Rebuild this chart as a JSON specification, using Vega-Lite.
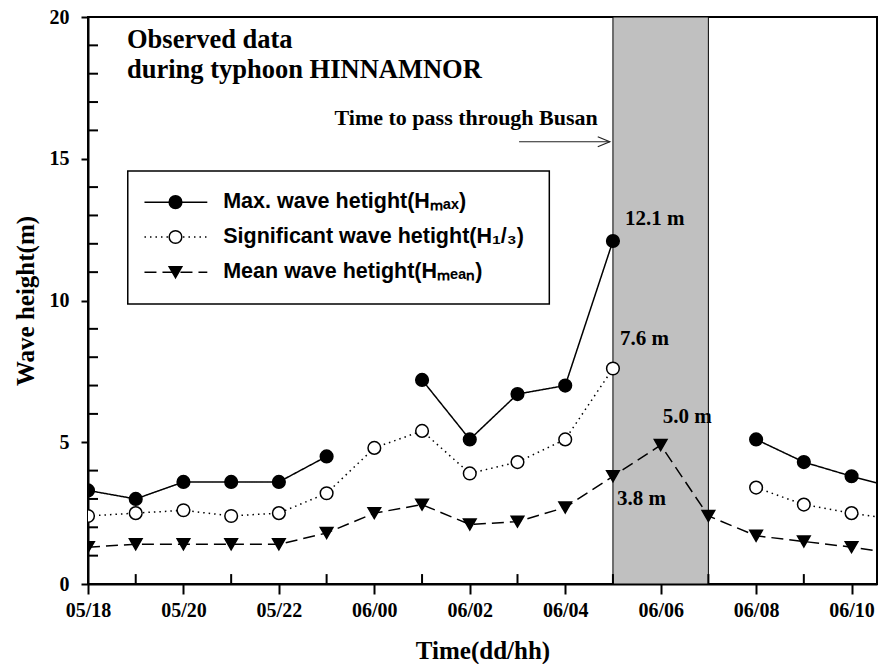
{
  "$schema": "https://vega.github.io/schema/vega-lite/v6.json",
  "width": 789,
  "height": 567,
  "autosize": {"type": "none"},
  "padding": {"left": 88, "top": 17, "right": 2, "bottom": 80},
  "background": "white",
  "config": {
    "view": {"stroke": "black", "strokeWidth": 2},
    "axis": {"zindex": 1, "grid": false, "labelOverlap": false, "domainColor": "black", "domainWidth": 2, "tickColor": "black", "tickWidth": 2, "labelColor": "black", "titleColor": "black", "labelFont": "Liberation Serif", "labelFontWeight": "bold", "labelFontSize": 20, "titleFont": "Liberation Serif", "titleFontWeight": "bold", "titleFontSize": 25}
  },
  "datasets": {
    "waves": [
      {"time": "2022-09-05T18:00", "series": "max", "value": 3.3},
      {"time": "2022-09-05T19:00", "series": "max", "value": 3.0},
      {"time": "2022-09-05T20:00", "series": "max", "value": 3.6},
      {"time": "2022-09-05T21:00", "series": "max", "value": 3.6},
      {"time": "2022-09-05T22:00", "series": "max", "value": 3.6},
      {"time": "2022-09-05T23:00", "series": "max", "value": 4.5},
      {"time": "2022-09-06T00:00", "series": "max", "value": null},
      {"time": "2022-09-06T01:00", "series": "max", "value": 7.2},
      {"time": "2022-09-06T02:00", "series": "max", "value": 5.1},
      {"time": "2022-09-06T03:00", "series": "max", "value": 6.7},
      {"time": "2022-09-06T04:00", "series": "max", "value": 7.0},
      {"time": "2022-09-06T05:00", "series": "max", "value": 12.1},
      {"time": "2022-09-06T06:00", "series": "max", "value": null},
      {"time": "2022-09-06T07:00", "series": "max", "value": null},
      {"time": "2022-09-06T08:00", "series": "max", "value": 5.1},
      {"time": "2022-09-06T09:00", "series": "max", "value": 4.3},
      {"time": "2022-09-06T10:00", "series": "max", "value": 3.8},
      {"time": "2022-09-06T11:00", "series": "max", "value": 3.35},
      {"time": "2022-09-05T18:00", "series": "sig", "value": 2.4},
      {"time": "2022-09-05T19:00", "series": "sig", "value": 2.5},
      {"time": "2022-09-05T20:00", "series": "sig", "value": 2.6},
      {"time": "2022-09-05T21:00", "series": "sig", "value": 2.4},
      {"time": "2022-09-05T22:00", "series": "sig", "value": 2.5},
      {"time": "2022-09-05T23:00", "series": "sig", "value": 3.2},
      {"time": "2022-09-06T00:00", "series": "sig", "value": 4.8},
      {"time": "2022-09-06T01:00", "series": "sig", "value": 5.4},
      {"time": "2022-09-06T02:00", "series": "sig", "value": 3.9},
      {"time": "2022-09-06T03:00", "series": "sig", "value": 4.3},
      {"time": "2022-09-06T04:00", "series": "sig", "value": 5.1},
      {"time": "2022-09-06T05:00", "series": "sig", "value": 7.6},
      {"time": "2022-09-06T06:00", "series": "sig", "value": null},
      {"time": "2022-09-06T07:00", "series": "sig", "value": null},
      {"time": "2022-09-06T08:00", "series": "sig", "value": 3.4},
      {"time": "2022-09-06T09:00", "series": "sig", "value": 2.8},
      {"time": "2022-09-06T10:00", "series": "sig", "value": 2.5},
      {"time": "2022-09-06T11:00", "series": "sig", "value": 2.25},
      {"time": "2022-09-05T18:00", "series": "mean", "value": 1.3},
      {"time": "2022-09-05T19:00", "series": "mean", "value": 1.4},
      {"time": "2022-09-05T20:00", "series": "mean", "value": 1.4},
      {"time": "2022-09-05T21:00", "series": "mean", "value": 1.4},
      {"time": "2022-09-05T22:00", "series": "mean", "value": 1.4},
      {"time": "2022-09-05T23:00", "series": "mean", "value": 1.8},
      {"time": "2022-09-06T00:00", "series": "mean", "value": 2.5},
      {"time": "2022-09-06T01:00", "series": "mean", "value": 2.8},
      {"time": "2022-09-06T02:00", "series": "mean", "value": 2.1},
      {"time": "2022-09-06T03:00", "series": "mean", "value": 2.2},
      {"time": "2022-09-06T04:00", "series": "mean", "value": 2.7},
      {"time": "2022-09-06T05:00", "series": "mean", "value": 3.8},
      {"time": "2022-09-06T06:00", "series": "mean", "value": 4.9},
      {"time": "2022-09-06T07:00", "series": "mean", "value": 2.4},
      {"time": "2022-09-06T08:00", "series": "mean", "value": 1.7},
      {"time": "2022-09-06T09:00", "series": "mean", "value": 1.5},
      {"time": "2022-09-06T10:00", "series": "mean", "value": 1.3},
      {"time": "2022-09-06T11:00", "series": "mean", "value": 1.05}
    ],
    "passage": [{"start": "2022-09-06T05:00", "end": "2022-09-06T07:00"}],
    "minorX": [
      {"time": "2022-09-05T19:00"}, {"time": "2022-09-05T21:00"}, {"time": "2022-09-05T23:00"}, {"time": "2022-09-06T01:00"},
      {"time": "2022-09-06T03:00"}, {"time": "2022-09-06T05:00"}, {"time": "2022-09-06T07:00"}, {"time": "2022-09-06T09:00"}
    ],
    "minorY": [
      {"level": 1}, {"level": 2}, {"level": 3}, {"level": 4}, {"level": 6}, {"level": 7}, {"level": 8}, {"level": 9},
      {"level": 11}, {"level": 12}, {"level": 13}, {"level": 14}, {"level": 16}, {"level": 17}, {"level": 18}, {"level": 19}
    ],
    "one": [{}]
  },
  "layer": [
    {
      "data": {"name": "passage"},
      "mark": {"type": "rect", "fill": "#c0c0c0", "stroke": "black", "strokeWidth": 1},
      "encoding": {
        "x": {"field": "start", "type": "temporal"},
        "x2": {"field": "end"},
        "y": {"datum": 0, "type": "quantitative"},
        "y2": {"datum": 20}
      }
    },
    {
      "data": {"name": "minorX"},
      "mark": {"type": "rule", "color": "black", "strokeWidth": 2},
      "encoding": {
        "x": {"field": "time", "type": "temporal"},
        "y": {"datum": 0, "type": "quantitative"},
        "y2": {"datum": 0.35}
      }
    },
    {
      "data": {"name": "minorY"},
      "mark": {"type": "rule", "color": "black", "strokeWidth": 2},
      "encoding": {
        "y": {"field": "level", "type": "quantitative"},
        "x": {"datum": {"year": 2022, "month": 9, "date": 5, "hours": 18}, "type": "temporal"},
        "x2": {"datum": {"year": 2022, "month": 9, "date": 5, "hours": 18, "minutes": 12, "seconds": 36}}
      }
    },
    {
      "data": {"name": "waves"},
      "mark": {"type": "line", "color": "black", "strokeWidth": 1.5, "clip": true, "invalid": "break-paths-show-domains"},
      "encoding": {
        "x": {"field": "time", "type": "temporal", "title": "Time(dd/hh)",
          "scale": {"domain": [{"year": 2022, "month": 9, "date": 5, "hours": 18}, {"year": 2022, "month": 9, "date": 6, "hours": 10, "minutes": 32}], "nice": false},
          "axis": {"orient": "bottom", "format": "%d/%H", "values": [
            {"year": 2022, "month": 9, "date": 5, "hours": 18}, {"year": 2022, "month": 9, "date": 5, "hours": 20}, {"year": 2022, "month": 9, "date": 5, "hours": 22},
            {"year": 2022, "month": 9, "date": 6, "hours": 0}, {"year": 2022, "month": 9, "date": 6, "hours": 2}, {"year": 2022, "month": 9, "date": 6, "hours": 4},
            {"year": 2022, "month": 9, "date": 6, "hours": 6}, {"year": 2022, "month": 9, "date": 6, "hours": 8}, {"year": 2022, "month": 9, "date": 6, "hours": 10}],
            "tickSize": 10, "labelPadding": 6, "labelFlush": false, "labelOverlap": false, "titleY": 66, "titleBaseline": "middle"}},
        "y": {"field": "value", "type": "quantitative", "title": "Wave height(m)",
          "scale": {"domain": [0, 20], "nice": false},
          "axis": {"orient": "left", "values": [0, 5, 10, 15, 20],
            "tickSize": 7, "labelPadding": 12, "labelFlush": false, "labelOverlap": false, "titleX": -63, "titleBaseline": "middle"}},
        "detail": {"field": "series"},
        "strokeDash": {"condition": [{"test": "datum.series === 'sig'", "value": [1.5, 4]}, {"test": "datum.series === 'mean'", "value": [12, 6]}], "value": [1, 0]}
      }
    },
    {
      "data": {"name": "waves"},
      "mark": {"type": "point", "filled": true, "stroke": "black", "strokeWidth": 1.5, "opacity": 1, "size": 160, "clip": true},
      "encoding": {
        "x": {"field": "time", "type": "temporal"},
        "y": {"field": "value", "type": "quantitative"},
        "shape": {"condition": {"test": "datum.series === 'mean'", "value": "triangle-down"}, "value": "circle"},
        "fill": {"condition": {"test": "datum.series === 'sig'", "value": "white"}, "value": "black"}
      }
    },
    {
      "data": {"name": "one"},
      "mark": {"type": "rect", "fill": "white", "stroke": "black", "strokeWidth": 1.5},
      "encoding": {
        "x": {"datum": {"year": 2022, "month": 9, "date": 5, "hours": 18, "minutes": 50}, "type": "temporal"},
        "x2": {"datum": {"year": 2022, "month": 9, "date": 6, "hours": 3, "minutes": 40}},
        "y": {"datum": 9.88, "type": "quantitative"},
        "y2": {"datum": 14.57}
      }
    },
    {
      "data": {"name": "one"},
      "mark": {"type": "rule", "color": "black", "strokeWidth": 1.5},
      "encoding": {
        "x": {"datum": {"year": 2022, "month": 9, "date": 5, "hours": 19, "minutes": 11}, "type": "temporal"},
        "x2": {"datum": {"year": 2022, "month": 9, "date": 5, "hours": 20, "minutes": 30}},
        "y": {"datum": 13.47, "type": "quantitative"}
      }
    },
    {
      "data": {"name": "one"},
      "mark": {"type": "rule", "color": "black", "strokeWidth": 1.5, "strokeDash": [1.5, 4]},
      "encoding": {
        "x": {"datum": {"year": 2022, "month": 9, "date": 5, "hours": 19, "minutes": 11}, "type": "temporal"},
        "x2": {"datum": {"year": 2022, "month": 9, "date": 5, "hours": 20, "minutes": 30}},
        "y": {"datum": 12.24, "type": "quantitative"}
      }
    },
    {
      "data": {"name": "one"},
      "mark": {"type": "rule", "color": "black", "strokeWidth": 1.5, "strokeDash": [12, 6]},
      "encoding": {
        "x": {"datum": {"year": 2022, "month": 9, "date": 5, "hours": 19, "minutes": 11}, "type": "temporal"},
        "x2": {"datum": {"year": 2022, "month": 9, "date": 5, "hours": 20, "minutes": 30}},
        "y": {"datum": 11.0, "type": "quantitative"}
      }
    },
    {
      "data": {"name": "one"},
      "mark": {"type": "point", "shape": "circle", "filled": true, "fill": "black", "stroke": "black", "strokeWidth": 1.5, "size": 160, "opacity": 1},
      "encoding": {
        "x": {"datum": {"year": 2022, "month": 9, "date": 5, "hours": 19, "minutes": 50}, "type": "temporal"},
        "y": {"datum": 13.47, "type": "quantitative"}
      }
    },
    {
      "data": {"name": "one"},
      "mark": {"type": "point", "shape": "circle", "filled": true, "fill": "white", "stroke": "black", "strokeWidth": 1.5, "size": 160, "opacity": 1},
      "encoding": {
        "x": {"datum": {"year": 2022, "month": 9, "date": 5, "hours": 19, "minutes": 50}, "type": "temporal"},
        "y": {"datum": 12.24, "type": "quantitative"}
      }
    },
    {
      "data": {"name": "one"},
      "mark": {"type": "point", "shape": "triangle-down", "filled": true, "fill": "black", "stroke": "black", "strokeWidth": 1.5, "size": 160, "opacity": 1},
      "encoding": {
        "x": {"datum": {"year": 2022, "month": 9, "date": 5, "hours": 19, "minutes": 50}, "type": "temporal"},
        "y": {"datum": 11.0, "type": "quantitative"}
      }
    },
    {
      "data": {"name": "one"},
      "mark": {"type": "text", "align": "left", "baseline": "middle", "font": "Liberation Sans", "fontWeight": "bold", "fontSize": 21.5, "color": "black"},
      "encoding": {
        "x": {"datum": {"year": 2022, "month": 9, "date": 5, "hours": 20, "minutes": 50}, "type": "temporal"},
        "y": {"datum": 13.47, "type": "quantitative"},
        "text": {"value": "Max. wave hetight(Hₘₐₓ)"}
      }
    },
    {
      "data": {"name": "one"},
      "mark": {"type": "text", "align": "left", "baseline": "middle", "font": "Liberation Sans", "fontWeight": "bold", "fontSize": 21.5, "color": "black"},
      "encoding": {
        "x": {"datum": {"year": 2022, "month": 9, "date": 5, "hours": 20, "minutes": 50}, "type": "temporal"},
        "y": {"datum": 12.24, "type": "quantitative"},
        "text": {"value": "Significant wave hetight(H₁/₃)"}
      }
    },
    {
      "data": {"name": "one"},
      "mark": {"type": "text", "align": "left", "baseline": "middle", "font": "Liberation Sans", "fontWeight": "bold", "fontSize": 21.5, "color": "black"},
      "encoding": {
        "x": {"datum": {"year": 2022, "month": 9, "date": 5, "hours": 20, "minutes": 50}, "type": "temporal"},
        "y": {"datum": 11.0, "type": "quantitative"},
        "text": {"value": "Mean wave hetight(Hₘₑₐₙ)"}
      }
    },
    {
      "data": {"name": "one"},
      "mark": {"type": "text", "align": "left", "baseline": "alphabetic", "font": "Liberation Serif", "fontWeight": "bold", "fontSize": 26.5, "lineHeight": 30, "color": "black"},
      "encoding": {
        "x": {"datum": {"year": 2022, "month": 9, "date": 5, "hours": 18, "minutes": 49}, "type": "temporal"},
        "y": {"datum": 18.9, "type": "quantitative"},
        "text": {"value": ["Observed data", "during typhoon HINNAMNOR"]}
      }
    },
    {
      "data": {"name": "one"},
      "mark": {"type": "text", "align": "right", "baseline": "alphabetic", "font": "Liberation Serif", "fontWeight": "bold", "fontSize": 22, "color": "black"},
      "encoding": {
        "x": {"datum": {"year": 2022, "month": 9, "date": 6, "hours": 4, "minutes": 41}, "type": "temporal"},
        "y": {"datum": 16.19, "type": "quantitative"},
        "text": {"value": "Time to pass through Busan"}
      }
    },
    {
      "data": {"name": "one"},
      "mark": {"type": "rule", "color": "#222", "strokeWidth": 1.2},
      "encoding": {
        "x": {"datum": {"year": 2022, "month": 9, "date": 6, "hours": 3, "minutes": 2}, "type": "temporal"},
        "x2": {"datum": {"year": 2022, "month": 9, "date": 6, "hours": 4, "minutes": 56}},
        "y": {"datum": 15.6, "type": "quantitative"}
      }
    },
    {
      "data": {"name": "one"},
      "mark": {"type": "point", "shape": "M-1,-0.42L0,0L-1,0.42", "filled": false, "stroke": "#222", "strokeWidth": 1.2, "size": 576, "opacity": 1},
      "encoding": {
        "x": {"datum": {"year": 2022, "month": 9, "date": 6, "hours": 4, "minutes": 56}, "type": "temporal"},
        "y": {"datum": 15.6, "type": "quantitative"}
      }
    },
    {
      "data": {"name": "one"},
      "mark": {"type": "text", "align": "left", "baseline": "middle", "font": "Liberation Serif", "fontWeight": "bold", "fontSize": 21, "color": "black", "dx": 12, "dy": -22},
      "encoding": {
        "x": {"datum": {"year": 2022, "month": 9, "date": 6, "hours": 5}, "type": "temporal"},
        "y": {"datum": 12.1, "type": "quantitative"},
        "text": {"value": "12.1 m"}
      }
    },
    {
      "data": {"name": "one"},
      "mark": {"type": "text", "align": "left", "baseline": "middle", "font": "Liberation Serif", "fontWeight": "bold", "fontSize": 21, "color": "black", "dx": 7, "dy": -30},
      "encoding": {
        "x": {"datum": {"year": 2022, "month": 9, "date": 6, "hours": 5}, "type": "temporal"},
        "y": {"datum": 7.6, "type": "quantitative"},
        "text": {"value": "7.6 m"}
      }
    },
    {
      "data": {"name": "one"},
      "mark": {"type": "text", "align": "left", "baseline": "middle", "font": "Liberation Serif", "fontWeight": "bold", "fontSize": 21, "color": "black", "dx": 2, "dy": -28},
      "encoding": {
        "x": {"datum": {"year": 2022, "month": 9, "date": 6, "hours": 6}, "type": "temporal"},
        "y": {"datum": 4.9, "type": "quantitative"},
        "text": {"value": "5.0 m"}
      }
    },
    {
      "data": {"name": "one"},
      "mark": {"type": "text", "align": "left", "baseline": "middle", "font": "Liberation Serif", "fontWeight": "bold", "fontSize": 21, "color": "black", "dx": 4, "dy": 23},
      "encoding": {
        "x": {"datum": {"year": 2022, "month": 9, "date": 6, "hours": 5}, "type": "temporal"},
        "y": {"datum": 3.8, "type": "quantitative"},
        "text": {"value": "3.8 m"}
      }
    }
  ]
}
